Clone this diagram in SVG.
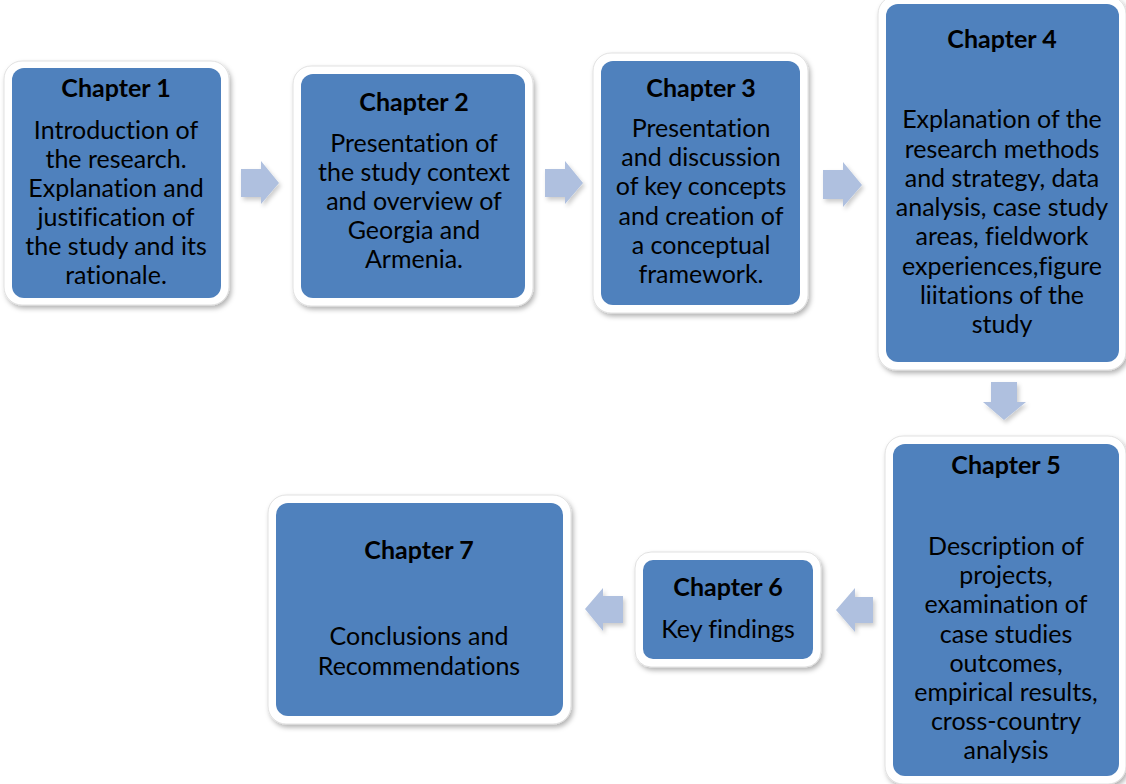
<svg xmlns="http://www.w3.org/2000/svg" width="1126" height="784" viewBox="0 0 1126 784">
<defs>
<filter id="sh" x="-10%" y="-10%" width="125%" height="125%">
<feDropShadow dx="2" dy="3" stdDeviation="2.5" flood-color="#000" flood-opacity="0.3"/>
</filter>
<filter id="ash" x="-20%" y="-20%" width="150%" height="150%">
<feDropShadow dx="2" dy="3" stdDeviation="2" flood-color="#000" flood-opacity="0.2"/>
</filter>
<style>
.outer{fill:#fff;stroke:#d9d9d9;stroke-width:0.8;filter:url(#sh)}
.inner{fill:#4F81BD}
.t{font-family:Lato,"Liberation Sans",sans-serif;font-weight:bold;font-size:25px;fill:#000;text-anchor:middle;font-variant-ligatures:none}
.b{font-family:Lato,"Liberation Sans",sans-serif;font-size:25px;fill:#000;text-anchor:middle;font-variant-ligatures:none}
.arr{fill:#AFC0DF;filter:url(#ash)}
</style>
</defs>
<rect width="1126" height="784" fill="#fff"/>
<g id="connectors">
<polygon class="arr" points="241,169 261,169 261,161 279,183 261,204 261,197 241,197"/>
<polygon class="arr" points="545,169 565,169 565,161 583,183 565,204 565,197 545,197"/>
<polygon class="arr" points="823,170 843,170 843,162 862,185 843,207 843,199 823,199"/>
<polygon class="arr" points="991,382 1017,382 1017,402 1026,402 1004,420 983,402 991,402"/>
<polygon class="arr" points="873,597 855,597 855,588 836,610 855,632 855,623 873,623"/>
<polygon class="arr" points="623,596 603,596 603,588 585,609 603,631 603,623 623,623"/>
</g>
<g id="chapter1">
<rect class="outer" x="4" y="61" width="225" height="244" rx="18"/>
<rect class="inner" x="12" y="68" width="209" height="230" rx="12"/>
<text class="t" x="116" y="97">Chapter 1</text>
<text class="b" x="116" y="139">Introduction of</text>
<text class="b" x="116" y="168">the research.</text>
<text class="b" x="116" y="197">Explanation and</text>
<text class="b" x="116" y="226">justification of</text>
<text class="b" x="116" y="255">the study and its</text>
<text class="b" x="116" y="284">rationale.</text>
</g>
<g id="chapter2">
<rect class="outer" x="293" y="66" width="240" height="240" rx="18"/>
<rect class="inner" x="301" y="74" width="224" height="224" rx="12"/>
<text class="t" x="414" y="111">Chapter 2</text>
<text class="b" x="414" y="152">Presentation of</text>
<text class="b" x="414" y="181">the study context</text>
<text class="b" x="414" y="210">and overview of</text>
<text class="b" x="414" y="239">Georgia and</text>
<text class="b" x="414" y="268">Armenia.</text>
</g>
<g id="chapter3">
<rect class="outer" x="593" y="53" width="215" height="260" rx="18"/>
<rect class="inner" x="601" y="61" width="199" height="244" rx="12"/>
<text class="t" x="701" y="97">Chapter 3</text>
<text class="b" x="701" y="137">Presentation</text>
<text class="b" x="701" y="166">and discussion</text>
<text class="b" x="701" y="195">of key concepts</text>
<text class="b" x="701" y="225">and creation of</text>
<text class="b" x="701" y="254">a conceptual</text>
<text class="b" x="701" y="283">framework.</text>
</g>
<g id="chapter4">
<rect class="outer" x="878" y="-4" width="248" height="374" rx="18"/>
<rect class="inner" x="886" y="4" width="233" height="358" rx="12"/>
<text class="t" x="1002" y="48">Chapter 4</text>
<text class="b" x="1002" y="128">Explanation of the</text>
<text class="b" x="1002" y="158">research methods</text>
<text class="b" x="1002" y="187">and strategy, data</text>
<text class="b" x="1002" y="216">analysis, case study</text>
<text class="b" x="1002" y="245">areas, fieldwork</text>
<text class="b" x="1002" y="275">experiences,figure</text>
<text class="b" x="1002" y="304">liitations of the</text>
<text class="b" x="1002" y="333">study</text>
</g>
<g id="chapter5">
<rect class="outer" x="885" y="436" width="241" height="348" rx="18"/>
<rect class="inner" x="893" y="444" width="226" height="332" rx="12"/>
<text class="t" x="1006" y="474">Chapter 5</text>
<text class="b" x="1006" y="555">Description of</text>
<text class="b" x="1006" y="584">projects,</text>
<text class="b" x="1006" y="613">examination of</text>
<text class="b" x="1006" y="643">case studies</text>
<text class="b" x="1006" y="672">outcomes,</text>
<text class="b" x="1006" y="701">empirical results,</text>
<text class="b" x="1006" y="730">cross-country</text>
<text class="b" x="1006" y="759">analysis</text>
</g>
<g id="chapter6">
<rect class="outer" x="635" y="552" width="186" height="115" rx="16"/>
<rect class="inner" x="643" y="560" width="170" height="99" rx="10"/>
<text class="t" x="728" y="596">Chapter 6</text>
<text class="b" x="728" y="638">Key findings</text>
</g>
<g id="chapter7">
<rect class="outer" x="268" y="495" width="303" height="229" rx="18"/>
<rect class="inner" x="276" y="503" width="287" height="213" rx="12"/>
<text class="t" x="419" y="559">Chapter 7</text>
<text class="b" x="419" y="645">Conclusions and</text>
<text class="b" x="419" y="675">Recommendations</text>
</g>
</svg>
